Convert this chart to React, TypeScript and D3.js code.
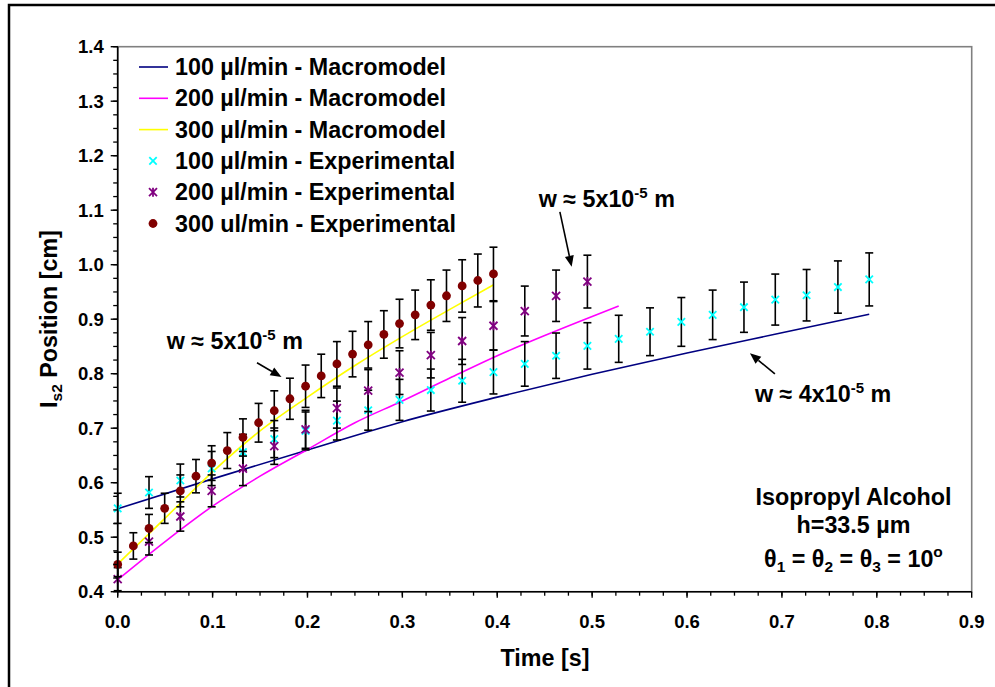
import React from "react";
import * as d3 from "d3";

// ---------- data ----------
const xTicks = [0, 0.1, 0.2, 0.3, 0.4, 0.5, 0.6, 0.7, 0.8, 0.9];
const yTicks = [0.4, 0.5, 0.6, 0.7, 0.8, 0.9, 1.0, 1.1, 1.2, 1.3, 1.4];

const modelTime100 = [0, 0.1, 0.2, 0.3, 0.4, 0.5, 0.6, 0.7, 0.792];
const model100 = [0.552, 0.607, 0.66, 0.712, 0.757, 0.799, 0.838, 0.875, 0.909];

const modelTime200 = [0, 0.05, 0.1, 0.15, 0.2, 0.25, 0.3, 0.35, 0.4, 0.45, 0.5, 0.528];
const model200 = [0.422, 0.492, 0.557, 0.612, 0.661, 0.71, 0.75, 0.792, 0.833, 0.87, 0.905, 0.924];

const modelTime300 = [0, 0.05, 0.1, 0.15, 0.2, 0.25, 0.3, 0.35, 0.396];
const model300 = [0.451, 0.535, 0.62, 0.695, 0.757, 0.815, 0.868, 0.918, 0.963];

const expTime100 = [0, 0.033, 0.066, 0.099, 0.132, 0.165, 0.198, 0.231, 0.264, 0.297, 0.33, 0.363, 0.396, 0.429, 0.462, 0.495, 0.528, 0.561, 0.594, 0.627, 0.66, 0.693, 0.726, 0.759, 0.792];
const exp100 = [0.553, 0.582, 0.604, 0.626, 0.656, 0.68, 0.695, 0.714, 0.733, 0.752, 0.77, 0.787, 0.803, 0.818, 0.833, 0.851, 0.864, 0.877, 0.895, 0.908, 0.922, 0.936, 0.944, 0.959, 0.973];

const expTime200 = [0, 0.033, 0.066, 0.099, 0.132, 0.165, 0.198, 0.231, 0.264, 0.297, 0.33, 0.363, 0.396, 0.429, 0.462, 0.495];
const exp200 = [0.423, 0.492, 0.538, 0.585, 0.626, 0.667, 0.698, 0.737, 0.769, 0.802, 0.834, 0.86, 0.888, 0.915, 0.943, 0.969];

const expTime300 = [0, 0.0165, 0.033, 0.0495, 0.066, 0.0825, 0.099, 0.1155, 0.132, 0.1485, 0.165, 0.1815, 0.198, 0.2145, 0.231, 0.2475, 0.264, 0.2805, 0.297, 0.3135, 0.33, 0.3465, 0.363, 0.3795, 0.396];
const exp300 = [0.45, 0.484, 0.516, 0.553, 0.585, 0.612, 0.636, 0.659, 0.683, 0.71, 0.732, 0.754, 0.777, 0.796, 0.818, 0.836, 0.853, 0.872, 0.892, 0.908, 0.926, 0.943, 0.961, 0.971, 0.983];

const errorPercent = 5;

const legendLabels = [
  "100 µl/min - Macromodel",
  "200 µl/min - Macromodel",
  "300 µl/min - Macromodel",
  "100 µl/min - Experimental",
  "200 µl/min - Experimental",
  "300 ul/min - Experimental",
];

// ---------- styles ----------
const W = 995;
const H = 687;
const FONT = "'Liberation Sans', Arial, Helvetica, sans-serif";
const BIG = 23.3;
const C_NAVY = "#000080";
const C_MAG = "#FF00FF";
const C_YEL = "#FFFF00";
const C_CYAN = "#00FFFF";
const C_PURP = "#800080";
const C_RED = "#800000";

const x = d3.scaleLinear().domain([0, 0.9]).range([117.7, 971.7]);
const y = d3.scaleLinear().domain([0.4, 1.4]).range([591.7, 46.7]);

const line = d3
  .line<[number, number]>()
  .x((d) => x(d[0]))
  .y((d) => y(d[1]))
  .curve(d3.curveMonotoneX);

function zip(a: number[], b: number[]): [number, number][] {
  return a.map((t, i) => [t, b[i]] as [number, number]);
}

function Marker({ kind, cx, cy }: { kind: string; cx: number; cy: number }) {
  if (kind === "x") {
    const s = 3.7;
    return (
      <g stroke={C_CYAN} strokeWidth={1.8}>
        <line x1={cx - s} y1={cy - s} x2={cx + s} y2={cy + s} />
        <line x1={cx - s} y1={cy + s} x2={cx + s} y2={cy - s} />
      </g>
    );
  }
  if (kind === "star") {
    const s = 4;
    return (
      <g stroke={C_PURP} strokeWidth={1.8}>
        <line x1={cx - s} y1={cy - s} x2={cx + s} y2={cy + s} />
        <line x1={cx - s} y1={cy + s} x2={cx + s} y2={cy - s} />
        <line x1={cx} y1={cy - s - 0.5} x2={cx} y2={cy + s + 0.5} />
      </g>
    );
  }
  return <circle cx={cx} cy={cy} r={4.4} fill={C_RED} />;
}

function ExpSeries({ ts, vs, kind }: { ts: number[]; vs: number[]; kind: string }) {
  const cap = 4;
  return (
    <g>
      {ts.map((t, i) => {
        const v = vs[i];
        const e = (v * errorPercent) / 100;
        const px = x(t);
        const y1 = y(v + e);
        const y2 = y(v - e);
        return (
          <g key={"e" + i} stroke="#000" strokeWidth={1.6}>
            <line x1={px} x2={px} y1={y1} y2={y2} />
            <line x1={px - cap} x2={px + cap} y1={y1} y2={y1} />
            <line x1={px - cap} x2={px + cap} y1={y2} y2={y2} />
          </g>
        );
      })}
      {ts.map((t, i) => (
        <Marker key={"m" + i} kind={kind} cx={x(t)} cy={y(vs[i])} />
      ))}
    </g>
  );
}

function Arrow({ from, to }: { from: [number, number]; to: [number, number] }) {
  const x1 = x(from[0]);
  const y1 = y(from[1]);
  const x2 = x(to[0]);
  const y2 = y(to[1]);
  const ang = Math.atan2(y2 - y1, x2 - x1);
  const L = 11;
  const Wd = 4.5;
  const bx = x2 - L * Math.cos(ang);
  const by = y2 - L * Math.sin(ang);
  const p1 = [bx + Wd * Math.sin(ang), by - Wd * Math.cos(ang)];
  const p2 = [bx - Wd * Math.sin(ang), by + Wd * Math.cos(ang)];
  return (
    <g>
      <line x1={x1} y1={y1} x2={bx} y2={by} stroke="#000" strokeWidth={1.6} />
      <polygon points={`${x2},${y2} ${p1[0]},${p1[1]} ${p2[0]},${p2[1]}`} fill="#000" />
    </g>
  );
}

function WLabel({ at, digit }: { at: [number, number]; digit: string }) {
  return (
    <text x={x(at[0])} y={y(at[1])} fontSize={BIG} fontWeight="bold" fontFamily={FONT}>
      {"w ≈ " + digit + "x10"}
      <tspan fontSize={15} dy={-9}>-5</tspan>
      <tspan dy={9}>{" m"}</tspan>
    </text>
  );
}

export default function App() {
  const xMinor = d3.range(0, 36).map((i) => i * 0.025);
  const yMinor = d3.range(0, 41).map((i) => 0.4 + i * 0.025);
  const legendX = 139;
  const legendY0 = 67;
  const legendDy = 31.3;

  return (
    <svg
      width={W}
      height={H}
      style={{ position: "absolute", left: 0, top: 0, background: "#fff" }}
      fontFamily={FONT}
    >
      <rect x={0} y={0} width={W} height={H} fill="#fff" />
      {/* outer frame */}
      <rect x={9} y={5} width={1100} height={1000} fill="none" stroke="#000" strokeWidth={2.5} />

      {/* plot area */}
      <rect
        x={x(0)}
        y={y(1.4)}
        width={x(0.9) - x(0)}
        height={y(0.4) - y(1.4)}
        fill="#fff"
        stroke="#808080"
        strokeWidth={1.6}
      />

      {/* model lines */}
      <path d={line(zip(modelTime100, model100)) || ""} fill="none" stroke={C_NAVY} strokeWidth={1.6} />
      <path d={line(zip(modelTime200, model200)) || ""} fill="none" stroke={C_MAG} strokeWidth={1.6} />
      <path d={line(zip(modelTime300, model300)) || ""} fill="none" stroke={C_YEL} strokeWidth={1.6} />

      {/* experimental */}
      <ExpSeries ts={expTime100} vs={exp100} kind="x" />
      <ExpSeries ts={expTime200} vs={exp200} kind="star" />
      <ExpSeries ts={expTime300} vs={exp300} kind="circle" />

      {/* axes */}
      <line x1={x(0)} x2={x(0)} y1={y(1.4)} y2={y(0.4)} stroke="#000" strokeWidth={1.6} />
      <line x1={x(0)} x2={x(0.9)} y1={y(0.4)} y2={y(0.4)} stroke="#000" strokeWidth={1.6} />
      {yMinor.map((v, i) => (
        <line key={"ym" + i} x1={x(0) - 4.5} x2={x(0)} y1={y(v)} y2={y(v)} stroke="#000" strokeWidth={1.3} />
      ))}
      {yTicks.map((v, i) => (
        <g key={"yt" + i}>
          <line x1={x(0) - 7} x2={x(0)} y1={y(v)} y2={y(v)} stroke="#000" strokeWidth={1.4} />
          <text x={x(0) - 14} y={y(v) + 6.5} textAnchor="end" fontSize={18.5} fontWeight="bold">
            {v.toFixed(1)}
          </text>
        </g>
      ))}
      {xMinor.map((v, i) => (
        <line key={"xm" + i} x1={x(v)} x2={x(v)} y1={y(0.4)} y2={y(0.4) + 4} stroke="#000" strokeWidth={1.3} />
      ))}
      {xTicks.map((v, i) => (
        <g key={"xt" + i}>
          <line x1={x(v)} x2={x(v)} y1={y(0.4)} y2={y(0.4) + 6} stroke="#000" strokeWidth={1.4} />
          <text x={x(v)} y={y(0.4) + 36.5} textAnchor="middle" fontSize={18.5} fontWeight="bold">
            {v.toFixed(1)}
          </text>
        </g>
      ))}

      {/* axis titles */}
      <text x={545} y={666} textAnchor="middle" fontSize={BIG} fontWeight="bold">
        Time [s]
      </text>
      <text transform="translate(57,319) rotate(-90)" textAnchor="middle" fontSize={BIG} fontWeight="bold">
        I<tspan fontSize={15.5} dy={5}>s2</tspan>
        <tspan dy={-5}>{" Position [cm]"}</tspan>
      </text>

      {/* legend */}
      {legendLabels.map((lab, i) => {
        const cy = legendY0 + i * legendDy;
        let sym: React.ReactNode = null;
        if (i === 0) sym = <line x1={legendX} x2={legendX + 29} y1={cy} y2={cy} stroke={C_NAVY} strokeWidth={1.6} />;
        if (i === 1) sym = <line x1={legendX} x2={legendX + 29} y1={cy} y2={cy} stroke={C_MAG} strokeWidth={1.6} />;
        if (i === 2) sym = <line x1={legendX} x2={legendX + 29} y1={cy} y2={cy} stroke={C_YEL} strokeWidth={1.6} />;
        if (i === 3) sym = <Marker kind="x" cx={legendX + 14} cy={cy} />;
        if (i === 4) sym = <Marker kind="star" cx={legendX + 14} cy={cy} />;
        if (i === 5) sym = <Marker kind="circle" cx={legendX + 14} cy={cy} />;
        return (
          <g key={"lg" + i}>
            {sym}
            <text x={175} y={cy + 8} fontSize={BIG} fontWeight="bold">
              {lab}
            </text>
          </g>
        );
      })}

      {/* annotations */}
      <WLabel at={[0.0516, 0.845]} digit="5" />
      <Arrow from={[0.1468, 0.82]} to={[0.1726, 0.794]} />
      <WLabel at={[0.4436, 1.1064]} digit="5" />
      <Arrow from={[0.466, 1.097]} to={[0.4784, 0.9963]} />
      <WLabel at={[0.6716, 0.7486]} digit="4" />
      <Arrow from={[0.6926, 0.7995]} to={[0.6663, 0.8374]} />

      {/* info box */}
      <g fontSize={BIG} fontWeight="bold" textAnchor="middle">
        <text x={x(0.7754)} y={y(0.559)}>Isopropyl Alcohol</text>
        <text x={x(0.7754)} y={y(0.507)}>h=33.5 µm</text>
        <text x={x(0.7754)} y={y(0.4459)}>
          θ<tspan fontSize={15.5} dy={5}>1</tspan>
          <tspan dy={-5}>{" = θ"}</tspan>
          <tspan fontSize={15.5} dy={5}>2</tspan>
          <tspan dy={-5}>{" = θ"}</tspan>
          <tspan fontSize={15.5} dy={5}>3</tspan>
          <tspan dy={-5}>{" = 10"}</tspan>
          <tspan fontSize={15.5} dy={-10}>o</tspan>
        </text>
      </g>
    </svg>
  );
}
